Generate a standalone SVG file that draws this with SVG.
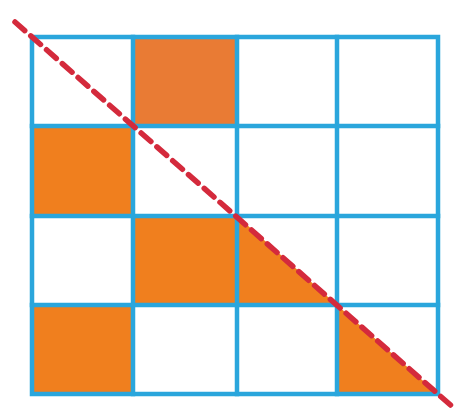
<svg xmlns="http://www.w3.org/2000/svg" width="457" height="411" viewBox="0 0 457 411">
  <style>
    .fill { fill: #F07F1E; }
    .grid { stroke: #2AA6DC; stroke-width: 4.5; fill: none; stroke-linecap: square; }
    .diag { stroke: #D42A3C; stroke-width: 5.5; fill: none; stroke-dasharray: 13 8; stroke-linecap: round; }
  </style>
  <rect width="457" height="411" fill="#ffffff"/>
  <g id="cells">
    <rect id="cell-r0c1" class="fill" x="133" y="37" width="104" height="89" style="fill:#E97B34"/>
    <rect id="cell-r1c0" class="fill" x="32" y="126" width="101" height="90"/>
    <rect id="cell-r2c1" class="fill" x="133" y="216" width="104" height="89"/>
    <polygon id="tri-r2c2" class="fill" points="237,216 237,305 337,305"/>
    <rect id="cell-r3c0" class="fill" x="32" y="305" width="101" height="89"/>
    <polygon id="tri-r3c3" class="fill" points="337,305 337,394 438,394"/>
  </g>
  <g id="grid" class="grid">
    <rect x="32" y="37" width="406" height="357"/>
    <line x1="133" y1="37" x2="133" y2="394"/>
    <line x1="237" y1="37" x2="237" y2="394"/>
    <line x1="337" y1="37" x2="337" y2="394"/>
    <line x1="32" y1="126" x2="438" y2="126"/>
    <line x1="32" y1="216" x2="438" y2="216"/>
    <line x1="32" y1="305" x2="438" y2="305"/>
  </g>
  <g id="connectors">
    <line class="diag" x1="15" y1="22" x2="455" y2="409"/>
  </g>
</svg>
